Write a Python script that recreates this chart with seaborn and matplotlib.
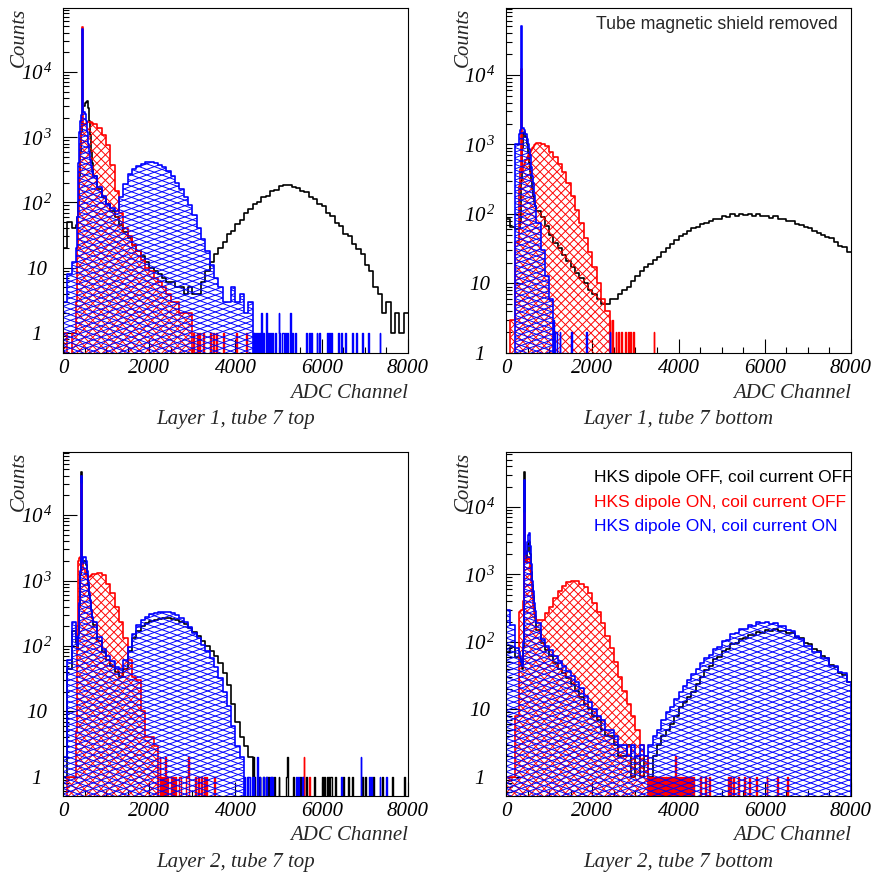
"""ADC spectra of one PMT pair for three field settings, four panels."""

import numpy as np
import pandas as pd
import matplotlib
matplotlib.use("Agg")
import matplotlib.pyplot as plt
import seaborn as sns
from matplotlib.collections import LineCollection
from matplotlib.path import Path
from matplotlib.ticker import MultipleLocator, LogLocator, NullFormatter, FuncFormatter

# ADC bin edges: 100 ch below the pedestal, 25 ch around it, 100 ch above
EDGES = [0, 100, 200] + list(range(300, 700, 25)) + list(range(700, 8001, 100))
# isolated low-count entries are drawn on 20-channel bins
EVENT_BIN = 20

# counts per bin (low 3 | fine 16 | coarse rows starting 700, 1700, ... 7700)
L1_TOP_OFF = (
    [20, 50, 40]
    + [45, 60, 100, 250, 600, 1200, 2500, 3000, 3300, 3500, 3600, 2800, 1800, 1100, 600, 400]
    + [250, 160, 120, 95, 75, 60, 45, 35, 28, 22,
       18, 15, 12, 10, 9, 8, 7, 6, 6, 5,
       5, 4, 5, 4, 4, 6, 9, 12, 16, 20,
       25, 33, 36, 47, 53, 68, 78, 95, 102, 121,
       127, 149, 156, 180, 182, 186, 170, 168, 150, 143,
       122, 113, 95, 88, 68, 62, 49, 44, 33, 30,
       23, 19, 16, 11, 9, 5, 4, 2, 3, 1,
       2, 1, 2]
)
L1_TOP_DIPOLE = (
    [1, 0, 1]
    + [3, 20, 70, 300, 800, 1400, 49000, 1600, 1600, 1650, 1700, 1700, 1720, 1720, 1700, 1680]
    + [1600, 1400, 1100, 750, 380, 150, 70, 40, 30, 22,
       18, 13, 10, 9, 7, 6, 5, 4, 3, 3,
       2, 2, 2, 0, 0, 0, 0, 0, 0, 0,
       0, 0, 0, 0, 0, 0, 0, 0, 0, 0,
       0, 0, 0, 0, 0, 0, 0, 0, 0, 0,
       0, 0, 0, 0, 0, 0, 0, 0, 0, 0,
       0, 0, 0, 0, 0, 0, 0, 0, 0, 0,
       0, 0, 0]
)
L1_TOP_DIPOLE_EVENTS = [3020, 3110, 3160, 3250, 3270, 3420, 3490, 3560, 3720, 4020, 4250]
L1_TOP_COIL = (
    [3, 8, 12]
    + [20, 60, 400, 1200, 1800, 2200, 45000, 2400, 2300, 1800, 1200, 800, 600, 450, 360, 300]
    + [250, 170, 125, 95, 82, 75, 120, 190, 270, 320,
       360, 390, 410, 410, 400, 380, 350, 300, 250, 200,
       160, 120, 90, 65, 40, 27, 18, 11, 7, 5,
       3, 3, 5, 3, 4, 2, 3, 0, 0, 0,
       0, 0, 0, 0, 0, 0, 0, 0, 0, 0,
       0, 0, 0, 0, 0, 0, 0, 0, 0, 0,
       0, 0, 0, 0, 0, 0, 0, 0, 0, 0,
       0, 0, 0]
)
L1_TOP_COIL_EVENTS = [4410, 4450, 4490, 4530, 4560, 4600, 4605, 4650, 4700, 4710,
                      4770, 4800, 4850, 4870, 4930, 5010, 5015, 5020, 5080, 5100,
                      5150, 5210, 5260, 5265, 5330, 5390, 5640, 5700, 5760, 5880,
                      5950, 6120, 6180, 6230, 6390, 6450, 6540, 6700, 6810, 6950,
                      7080, 7350]

L1_BOT_OFF = (
    [85, 65, 60]
    + [60, 80, 300, 900, 1400, 1500, 1300, 1000, 750, 550, 400, 300, 230, 180, 150, 130]
    + [110, 90, 68, 50, 38, 32, 26, 21, 17, 14,
       12, 10, 8, 7, 6, 5, 5, 6, 6, 7,
       8, 9, 11, 13, 15, 17, 19, 22, 24, 28,
       32, 37, 42, 48, 52, 56, 62, 66, 72, 75,
       79, 86, 84, 92, 90, 99, 94, 101, 96, 100,
       95, 99, 93, 95, 88, 92, 85, 84, 78, 79,
       72, 69, 65, 62, 57, 54, 50, 47, 45, 40,
       35, 33, 28]
)
L1_BOT_DIPOLE = (
    [0, 3, 40]
    + [250, 450, 12000, 420, 480, 530, 590, 650, 700, 740, 780, 830, 880, 930, 980, 1020]
    + [1050, 1030, 960, 780, 650, 520, 400, 280, 180, 115,
       75, 45, 28, 17, 10, 6, 4, 0, 0, 0,
       0, 0, 0, 0, 0, 0, 0, 0, 0, 0,
       0, 0, 0, 0, 0, 0, 0, 0, 0, 0,
       0, 0, 0, 0, 0, 0, 0, 0, 0, 0,
       0, 0, 0, 0, 0, 0, 0, 0, 0, 0,
       0, 0, 0, 0, 0, 0, 0, 0, 0, 0,
       0, 0, 0]
)
L1_BOT_DIPOLE_EVENTS = [2405, 2410, 2412, 2430, 2445, 2462, 2466, 2470, 2515, 2552,
                        2556, 2585, 2610, 2615, 2650, 2672, 2676, 2710, 2765, 2768,
                        2830, 2833, 2890, 2893, 2955, 2958, 3422, 3425]
L1_BOT_COIL = (
    [0, 0, 1000]
    + [1400, 1600, 50000, 1700, 1700, 1600, 1400, 1200, 1000, 850, 700, 480, 350, 280, 190, 130]
    + [75, 30, 13, 6, 0, 0, 0, 0, 0, 0,
       0, 0, 0, 0, 0, 0, 0, 0, 0, 0,
       0, 0, 0, 0, 0, 0, 0, 0, 0, 0,
       0, 0, 0, 0, 0, 0, 0, 0, 0, 0,
       0, 0, 0, 0, 0, 0, 0, 0, 0, 0,
       0, 0, 0, 0, 0, 0, 0, 0, 0, 0,
       0, 0, 0, 0, 0, 0, 0, 0, 0, 0,
       0, 0, 0]
)
L1_BOT_COIL_EVENTS = [1105, 1110, 1115, 1130, 1150, 1152, 1170, 1175, 1210, 1250,
                      1255, 1290, 1330, 1370, 1420, 1510, 1515, 1870, 1875, 2410, 2415]

L2_TOP_OFF = (
    [1, 45, 170]
    + [110, 90, 150, 400, 1200, 46000, 1800, 2000, 2000, 1700, 1200, 850, 600, 480, 350, 270]
    + [210, 120, 80, 60, 50, 40, 34, 45, 85, 130,
       170, 200, 225, 240, 250, 258, 263, 265, 262, 250,
       235, 215, 190, 165, 140, 120, 100, 85, 70, 55,
       38, 25, 13, 7, 4, 3, 2, 0, 0, 0,
       0, 0, 0, 0, 0, 0, 0, 0, 0, 0,
       0, 0, 0, 0, 0, 0, 0, 0, 0, 0,
       0, 0, 0, 0, 0, 0, 0, 0, 0, 0,
       0, 0, 0]
)
L2_TOP_OFF_EVENTS = [4410, 4415, 4450, 4520, 4570, 4640, 4700, 4760, 4830, 4900,
                     5010, 5180, 5210, 5215, 5350, 5500, 5560, 5640, 5830, 6010,
                     6060, 6120, 6160, 6200, 6230, 6310, 6500, 6620, 6700, 6950,
                     7010, 7200, 7400, 7650, 7900]
L2_TOP_DIPOLE = (
    [0, 1, 1]
    + [5, 200, 2000, 2200, 2300, 30000, 1800, 1500, 1300, 1200, 1150, 1130, 1140, 1170, 1200, 1240]
    + [1270, 1290, 1200, 900, 650, 400, 230, 130, 60, 33,
       30, 10, 4, 4, 3, 0, 0, 0, 0, 0,
       0, 0, 0, 0, 0, 0, 0, 0, 0, 0,
       0, 0, 0, 0, 0, 0, 0, 0, 0, 0,
       0, 0, 0, 0, 0, 0, 0, 0, 0, 0,
       0, 0, 0, 0, 0, 0, 0, 0, 0, 0,
       0, 0, 0, 0, 0, 0, 0, 0, 0, 0,
       0, 0, 0]
)
L2_TOP_DIPOLE_EVENTS = [2210, 2230, 2250, 2255, 2290, 2330, 2360, 2365, 2400, 2450,
                        2470, 2480, 2520, 2560, 2600, 2700, 2730, 2860, 2880, 2900,
                        2905, 3060, 3120, 3150, 3200, 3280, 3330, 3500, 5582, 5586, 5700]
L2_TOP_COIL = (
    [2, 60, 230]
    + [130, 100, 140, 450, 1400, 40000, 1900, 2300, 2300, 2000, 1400, 950, 650, 500, 360, 280]
    + [230, 135, 90, 70, 58, 48, 45, 60, 95, 150,
       210, 250, 280, 305, 320, 330, 335, 332, 320, 295,
       265, 230, 195, 160, 130, 105, 85, 66, 48, 32,
       20, 12, 6, 3, 2, 0, 0, 0, 0, 0,
       0, 0, 0, 0, 0, 0, 0, 0, 0, 0,
       0, 0, 0, 0, 0, 0, 0, 0, 0, 0,
       0, 0, 0, 0, 0, 0, 0, 0, 0, 0,
       0, 0, 0]
)
L2_TOP_COIL_EVENTS = [4210, 4260, 4310, 4330, 4380, 4420, 4500, 4505, 4560, 4640,
                      4700, 4800, 4850, 5400, 5460, 5550, 6450, 6900, 6905, 7100,
                      7150, 7350, 7500]

L2_BOT_OFF = (
    [70, 85, 60]
    + [60, 55, 45, 40, 80, 33000, 1500, 2200, 2800, 3000, 2000, 1100, 700, 480, 320, 220]
    + [150, 95, 75, 62, 48, 40, 34, 29, 24, 19,
       15, 12, 10, 8, 7, 5, 4, 4, 3, 2,
       2, 3, 1, 2, 1, 2, 1, 2, 3, 4,
       5, 6, 8, 11, 13, 15, 18, 24, 30, 38,
       44, 56, 60, 73, 78, 94, 97, 112, 113, 126,
       125, 139, 136, 149, 145, 153, 144, 146, 133, 134,
       116, 113, 96, 94, 79, 74, 61, 58, 46, 43,
       34, 32, 25]
)
L2_BOT_DIPOLE = (
    [1, 1, 8]
    + [280, 290, 300, 300, 400, 8000, 1500, 1700, 1800, 1700, 1200, 800, 500, 350, 280, 240]
    + [210, 210, 270, 330, 450, 560, 670, 760, 810, 800,
       720, 640, 530, 380, 280, 190, 120, 80, 50, 30,
       19, 12, 8, 5, 3, 2, 0, 0, 0, 0,
       0, 0, 0, 0, 0, 0, 0, 0, 0, 0,
       0, 0, 0, 0, 0, 0, 0, 0, 0, 0,
       0, 0, 0, 0, 0, 0, 0, 0, 0, 0,
       0, 0, 0, 0, 0, 0, 0, 0, 0, 0,
       0, 0, 0]
)
L2_BOT_DIPOLE_EVENTS = [3310, 3350, 3380, 3420, 3450, 3490, 3530, 3560, 3600, 3640,
                        3680, 3720, 3760, 3800, 3840, 3880, 3925, 3928, 3960, 4010,
                        4050, 4090, 4130, 4170, 4210, 4250, 4300, 4340, 4510, 4620,
                        4700, 5150, 5210, 5260, 5380, 5520, 5650, 5810, 6050, 6280, 6530]
L2_BOT_COIL = (
    [300, 180, 80]
    + [70, 60, 50, 45, 100, 25000, 2000, 3000, 3800, 4100, 2600, 1400, 800, 560, 380, 290]
    + [190, 110, 88, 75, 62, 52, 44, 37, 31, 25,
       21, 16, 13, 10, 8, 7, 5, 5, 4, 3,
       3, 2, 3, 2, 3, 2, 3, 4, 5, 7,
       9, 11, 14, 18, 22, 27, 33, 40, 48, 57,
       64, 79, 85, 104, 108, 130, 134, 156, 154, 176,
       174, 196, 188, 200, 186, 191, 172, 173, 150, 145,
       120, 110, 88, 88, 71, 71, 58, 57, 44, 44,
       36, 34, 25]
)

CONDITIONS = ["HKS dipole OFF, coil current OFF",
              "HKS dipole ON, coil current OFF",
              "HKS dipole ON, coil current ON"]
COLORS = ["#000000", "#ff0000", "#0000ff"]

TITLES = ["Layer 1, tube 7 top", "Layer 1, tube 7 bottom",
          "Layer 2, tube 7 top", "Layer 2, tube 7 bottom"]
YLIMS = [(0.49, 9.6e4), (1, 9.2e4), (0.51, 9.2e4), (0.52, 6.5e4)]
SERIES = [(L1_TOP_OFF, L1_TOP_DIPOLE, L1_TOP_COIL),
          (L1_BOT_OFF, L1_BOT_DIPOLE, L1_BOT_COIL),
          (L2_TOP_OFF, L2_TOP_DIPOLE, L2_TOP_COIL),
          (L2_BOT_OFF, L2_BOT_DIPOLE, L2_BOT_COIL)]
EVENTS = [([], L1_TOP_DIPOLE_EVENTS, L1_TOP_COIL_EVENTS),
          ([], L1_BOT_DIPOLE_EVENTS, L1_BOT_COIL_EVENTS),
          (L2_TOP_OFF_EVENTS, L2_TOP_DIPOLE_EVENTS, L2_TOP_COIL_EVENTS),
          ([], L2_BOT_DIPOLE_EVENTS, [])]

# axes rectangles in figure fraction (figure is 877 px square)
RECTS = [(0.0718, 0.5975, 0.3934, 0.3934), (0.5770, 0.5975, 0.3934, 0.3934),
         (0.0718, 0.0924, 0.3934, 0.3922), (0.5770, 0.0924, 0.3934, 0.3922)]

# hatch geometry (slope, line spacing in axes fraction) per condition
HATCH = [None, (1.0, 0.0246), (0.367, 0.0162)]


def add_hatch(ax, poly, color, slope, step, zorder):
    """Cross-hatch the inside of a filled histogram polygon."""
    offs = np.arange(-slope, 1 + slope + step, step)
    segs = [[(0, b), (1, b + slope)] for b in offs]
    segs += [[(0, b), (1, b - slope)] for b in offs]
    lc = LineCollection(segs, colors=color, linewidths=0.7,
                        transform=ax.transAxes, zorder=zorder)
    ax.add_collection(lc, autolim=False)
    clip = Path.make_compound_path(*poly.get_paths())
    lc.set_clip_path(clip, ax.transData)


def decade_label(v, pos):
    e = int(round(np.log10(v)))
    if e == 0:
        return "1"
    if e == 1:
        return "10"
    return rf"$10^{{\,{e}}}$"


sns.set_theme(style="ticks")
plt.rcParams.update({
    "font.family": ["Liberation Serif", "DejaVu Serif"],
    "font.style": "italic",
    "mathtext.fontset": "custom",
    "mathtext.rm": "Liberation Serif:italic",
    "mathtext.it": "Liberation Serif:italic",
    "axes.edgecolor": "black",
    "axes.linewidth": 0.8,
    "xtick.color": "black",
    "ytick.color": "black",
})

centers = 0.5 * (np.array(EDGES[:-1]) + np.array(EDGES[1:]))
fig = plt.figure(figsize=(8.77, 8.77), dpi=100)

for k in range(4):
    ax = fig.add_axes(RECTS[k])
    for j, (counts, events, color) in enumerate(zip(SERIES[k], EVENTS[k], COLORS)):
        df = pd.DataFrame({"adc": centers, "counts": counts})
        if HATCH[j] is None:
            sns.histplot(data=df, x="adc", weights="counts", bins=EDGES,
                         element="step", fill=False, color=color,
                         linewidth=1.2, zorder=1.0, ax=ax)
        else:
            n0 = len(ax.collections)
            sns.histplot(data=df, x="adc", weights="counts", bins=EDGES,
                         element="step", fill=True, alpha=0, color=color,
                         linewidth=1.2, zorder=1.2 + 0.2 * j, ax=ax)
            poly = ax.collections[n0]
            add_hatch(ax, poly, color, *HATCH[j], zorder=1.1 + 0.2 * j)
        if events:
            sns.histplot(x=events, binwidth=EVENT_BIN, binrange=(0, 8000),
                         element="step", fill=False, color=color,
                         linewidth=1.0, zorder=1.0 + 0.2 * j, ax=ax)

    ax.set(xlabel="", ylabel="")
    ax.set_yscale("log")
    ax.set_xlim(0, 8000)
    ax.set_ylim(*YLIMS[k])
    ax.xaxis.set_major_locator(MultipleLocator(2000))
    ax.xaxis.set_minor_locator(MultipleLocator(500))
    ax.yaxis.set_major_locator(LogLocator(base=10, numticks=12))
    ax.yaxis.set_minor_locator(LogLocator(base=10, subs=np.arange(2, 10), numticks=12))
    ax.yaxis.set_major_formatter(FuncFormatter(decade_label))
    ax.yaxis.set_minor_formatter(NullFormatter())
    ax.tick_params(which="both", direction="in", top=False, right=False,
                   width=0.8, labelsize=15)
    ax.tick_params(which="major", length=10)
    ax.tick_params(which="minor", length=4.6)
    ax.tick_params(axis="x", which="major", pad=4)
    ax.tick_params(axis="y", which="major", pad=19)
    for lbl in ax.get_yticklabels():
        lbl.set_horizontalalignment("center")

    ax.text(-0.125, 1.0, "Counts", transform=ax.transAxes, rotation=90,
            ha="center", va="top", fontsize=15)
    ax.text(1.0, -0.116, "ADC Channel", transform=ax.transAxes,
            ha="right", va="center", fontsize=15)
    ax.text(0.5, -0.194, TITLES[k], transform=ax.transAxes,
            ha="center", va="center", fontsize=15)

    if k == 1:
        ax.text(0.962, 0.951, "Tube magnetic shield removed", transform=ax.transAxes,
                ha="right", va="center", family="Liberation Sans",
                style="normal", fontsize=12.8)
    if k == 3:
        for j, (lab, color) in enumerate(zip(CONDITIONS, COLORS)):
            ax.text(0.255, 0.927 - 0.0725 * j, lab, transform=ax.transAxes,
                    ha="left", va="center", color=color, family="Liberation Sans",
                    style="normal", fontsize=12.5)

fig.savefig("out.png", dpi=100)
